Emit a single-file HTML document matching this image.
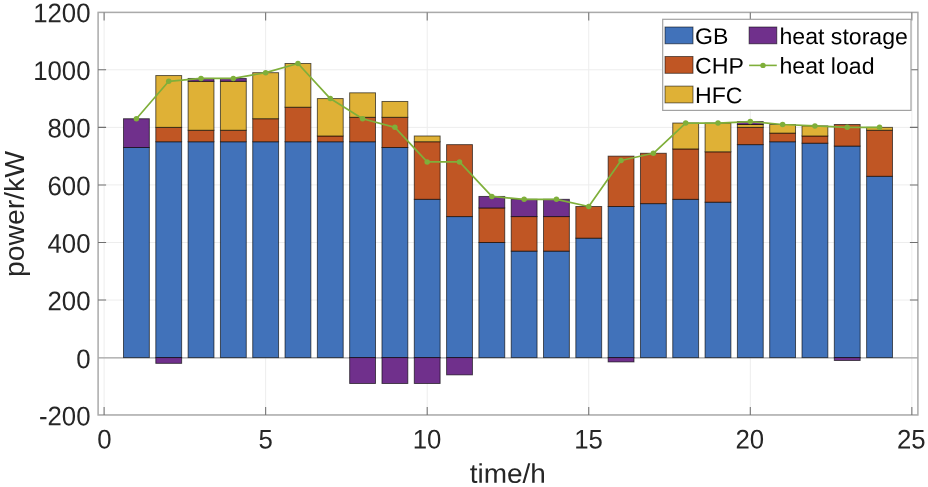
<!DOCTYPE html>
<html><head><meta charset="utf-8"><title>chart</title>
<style>html,body{margin:0;padding:0;background:#fff}svg{display:block;will-change:transform}text{font-family:"Liberation Sans",sans-serif}</style></head><body>
<svg width="928" height="487" viewBox="0 0 928 487">
<rect width="928" height="487" fill="#fff"/>
<path d="M104.10 12.4V414.95M265.65 12.4V414.95M427.20 12.4V414.95M588.75 12.4V414.95M750.30 12.4V414.95M911.85 12.4V414.95M98.1 415.16H917.9M98.1 357.60H917.9M98.1 300.04H917.9M98.1 242.48H917.9M98.1 184.92H917.9M98.1 127.36H917.9M98.1 69.80H917.9M98.1 12.24H917.9" stroke="#ededed" stroke-width="1" fill="none"/>
<path d="M98.1 357.90H917.9" stroke="#a4a4a4" stroke-width="1.4" fill="none"/>
<rect x="123.49" y="147.51" width="25.85" height="210.09" fill="#4172BA" stroke="#000" stroke-opacity="0.64" stroke-width="0.95"/>
<rect x="123.49" y="118.73" width="25.85" height="28.78" fill="#70308C" stroke="#000" stroke-opacity="0.64" stroke-width="0.95"/>
<rect x="155.80" y="141.75" width="25.85" height="215.85" fill="#4172BA" stroke="#000" stroke-opacity="0.64" stroke-width="0.95"/>
<rect x="155.80" y="127.36" width="25.85" height="14.39" fill="#C05624" stroke="#000" stroke-opacity="0.64" stroke-width="0.95"/>
<rect x="155.80" y="75.56" width="25.85" height="51.80" fill="#DFB136" stroke="#000" stroke-opacity="0.64" stroke-width="0.95"/>
<rect x="155.80" y="357.60" width="25.85" height="5.76" fill="#70308C" stroke="#000" stroke-opacity="0.64" stroke-width="0.95"/>
<rect x="188.11" y="141.75" width="25.85" height="215.85" fill="#4172BA" stroke="#000" stroke-opacity="0.64" stroke-width="0.95"/>
<rect x="188.11" y="130.24" width="25.85" height="11.51" fill="#C05624" stroke="#000" stroke-opacity="0.64" stroke-width="0.95"/>
<rect x="188.11" y="81.31" width="25.85" height="48.93" fill="#DFB136" stroke="#000" stroke-opacity="0.64" stroke-width="0.95"/>
<rect x="188.11" y="78.43" width="25.85" height="2.88" fill="#70308C" stroke="#000" stroke-opacity="0.64" stroke-width="0.95"/>
<rect x="220.42" y="141.75" width="25.85" height="215.85" fill="#4172BA" stroke="#000" stroke-opacity="0.64" stroke-width="0.95"/>
<rect x="220.42" y="130.24" width="25.85" height="11.51" fill="#C05624" stroke="#000" stroke-opacity="0.64" stroke-width="0.95"/>
<rect x="220.42" y="81.31" width="25.85" height="48.93" fill="#DFB136" stroke="#000" stroke-opacity="0.64" stroke-width="0.95"/>
<rect x="220.42" y="78.43" width="25.85" height="2.88" fill="#70308C" stroke="#000" stroke-opacity="0.64" stroke-width="0.95"/>
<rect x="252.73" y="141.75" width="25.85" height="215.85" fill="#4172BA" stroke="#000" stroke-opacity="0.64" stroke-width="0.95"/>
<rect x="252.73" y="118.73" width="25.85" height="23.02" fill="#C05624" stroke="#000" stroke-opacity="0.64" stroke-width="0.95"/>
<rect x="252.73" y="72.68" width="25.85" height="46.05" fill="#DFB136" stroke="#000" stroke-opacity="0.64" stroke-width="0.95"/>
<rect x="285.04" y="141.75" width="25.85" height="215.85" fill="#4172BA" stroke="#000" stroke-opacity="0.64" stroke-width="0.95"/>
<rect x="285.04" y="107.21" width="25.85" height="34.54" fill="#C05624" stroke="#000" stroke-opacity="0.64" stroke-width="0.95"/>
<rect x="285.04" y="63.47" width="25.85" height="43.75" fill="#DFB136" stroke="#000" stroke-opacity="0.64" stroke-width="0.95"/>
<rect x="317.35" y="141.75" width="25.85" height="215.85" fill="#4172BA" stroke="#000" stroke-opacity="0.64" stroke-width="0.95"/>
<rect x="317.35" y="135.99" width="25.85" height="5.76" fill="#C05624" stroke="#000" stroke-opacity="0.64" stroke-width="0.95"/>
<rect x="317.35" y="98.58" width="25.85" height="37.41" fill="#DFB136" stroke="#000" stroke-opacity="0.64" stroke-width="0.95"/>
<rect x="349.66" y="141.75" width="25.85" height="215.85" fill="#4172BA" stroke="#000" stroke-opacity="0.64" stroke-width="0.95"/>
<rect x="349.66" y="117.29" width="25.85" height="24.46" fill="#C05624" stroke="#000" stroke-opacity="0.64" stroke-width="0.95"/>
<rect x="349.66" y="92.82" width="25.85" height="24.46" fill="#DFB136" stroke="#000" stroke-opacity="0.64" stroke-width="0.95"/>
<rect x="349.66" y="357.60" width="25.85" height="25.90" fill="#70308C" stroke="#000" stroke-opacity="0.64" stroke-width="0.95"/>
<rect x="381.97" y="147.51" width="25.85" height="210.09" fill="#4172BA" stroke="#000" stroke-opacity="0.64" stroke-width="0.95"/>
<rect x="381.97" y="117.29" width="25.85" height="30.22" fill="#C05624" stroke="#000" stroke-opacity="0.64" stroke-width="0.95"/>
<rect x="381.97" y="101.46" width="25.85" height="15.83" fill="#DFB136" stroke="#000" stroke-opacity="0.64" stroke-width="0.95"/>
<rect x="381.97" y="357.60" width="25.85" height="25.90" fill="#70308C" stroke="#000" stroke-opacity="0.64" stroke-width="0.95"/>
<rect x="414.28" y="199.31" width="25.85" height="158.29" fill="#4172BA" stroke="#000" stroke-opacity="0.64" stroke-width="0.95"/>
<rect x="414.28" y="141.75" width="25.85" height="57.56" fill="#C05624" stroke="#000" stroke-opacity="0.64" stroke-width="0.95"/>
<rect x="414.28" y="135.99" width="25.85" height="5.76" fill="#DFB136" stroke="#000" stroke-opacity="0.64" stroke-width="0.95"/>
<rect x="414.28" y="357.60" width="25.85" height="25.90" fill="#70308C" stroke="#000" stroke-opacity="0.64" stroke-width="0.95"/>
<rect x="446.59" y="216.58" width="25.85" height="141.02" fill="#4172BA" stroke="#000" stroke-opacity="0.64" stroke-width="0.95"/>
<rect x="446.59" y="144.63" width="25.85" height="71.95" fill="#C05624" stroke="#000" stroke-opacity="0.64" stroke-width="0.95"/>
<rect x="446.59" y="357.60" width="25.85" height="17.27" fill="#70308C" stroke="#000" stroke-opacity="0.64" stroke-width="0.95"/>
<rect x="478.90" y="242.48" width="25.85" height="115.12" fill="#4172BA" stroke="#000" stroke-opacity="0.64" stroke-width="0.95"/>
<rect x="478.90" y="207.94" width="25.85" height="34.54" fill="#C05624" stroke="#000" stroke-opacity="0.64" stroke-width="0.95"/>
<rect x="478.90" y="196.43" width="25.85" height="11.51" fill="#70308C" stroke="#000" stroke-opacity="0.64" stroke-width="0.95"/>
<rect x="511.21" y="251.11" width="25.85" height="106.49" fill="#4172BA" stroke="#000" stroke-opacity="0.64" stroke-width="0.95"/>
<rect x="511.21" y="216.58" width="25.85" height="34.54" fill="#C05624" stroke="#000" stroke-opacity="0.64" stroke-width="0.95"/>
<rect x="511.21" y="199.31" width="25.85" height="17.27" fill="#70308C" stroke="#000" stroke-opacity="0.64" stroke-width="0.95"/>
<rect x="543.52" y="251.11" width="25.85" height="106.49" fill="#4172BA" stroke="#000" stroke-opacity="0.64" stroke-width="0.95"/>
<rect x="543.52" y="216.58" width="25.85" height="34.54" fill="#C05624" stroke="#000" stroke-opacity="0.64" stroke-width="0.95"/>
<rect x="543.52" y="199.31" width="25.85" height="17.27" fill="#70308C" stroke="#000" stroke-opacity="0.64" stroke-width="0.95"/>
<rect x="575.83" y="238.16" width="25.85" height="119.44" fill="#4172BA" stroke="#000" stroke-opacity="0.64" stroke-width="0.95"/>
<rect x="575.83" y="206.51" width="25.85" height="31.66" fill="#C05624" stroke="#000" stroke-opacity="0.64" stroke-width="0.95"/>
<rect x="608.14" y="206.51" width="25.85" height="151.09" fill="#4172BA" stroke="#000" stroke-opacity="0.64" stroke-width="0.95"/>
<rect x="608.14" y="156.14" width="25.85" height="50.37" fill="#C05624" stroke="#000" stroke-opacity="0.64" stroke-width="0.95"/>
<rect x="608.14" y="357.60" width="25.85" height="4.32" fill="#70308C" stroke="#000" stroke-opacity="0.64" stroke-width="0.95"/>
<rect x="640.45" y="203.63" width="25.85" height="153.97" fill="#4172BA" stroke="#000" stroke-opacity="0.64" stroke-width="0.95"/>
<rect x="640.45" y="153.26" width="25.85" height="50.36" fill="#C05624" stroke="#000" stroke-opacity="0.64" stroke-width="0.95"/>
<rect x="672.76" y="199.31" width="25.85" height="158.29" fill="#4172BA" stroke="#000" stroke-opacity="0.64" stroke-width="0.95"/>
<rect x="672.76" y="148.95" width="25.85" height="50.37" fill="#C05624" stroke="#000" stroke-opacity="0.64" stroke-width="0.95"/>
<rect x="672.76" y="123.04" width="25.85" height="25.90" fill="#DFB136" stroke="#000" stroke-opacity="0.64" stroke-width="0.95"/>
<rect x="705.07" y="202.19" width="25.85" height="155.41" fill="#4172BA" stroke="#000" stroke-opacity="0.64" stroke-width="0.95"/>
<rect x="705.07" y="151.82" width="25.85" height="50.36" fill="#C05624" stroke="#000" stroke-opacity="0.64" stroke-width="0.95"/>
<rect x="705.07" y="123.04" width="25.85" height="28.78" fill="#DFB136" stroke="#000" stroke-opacity="0.64" stroke-width="0.95"/>
<rect x="737.38" y="144.63" width="25.85" height="212.97" fill="#4172BA" stroke="#000" stroke-opacity="0.64" stroke-width="0.95"/>
<rect x="737.38" y="127.36" width="25.85" height="17.27" fill="#C05624" stroke="#000" stroke-opacity="0.64" stroke-width="0.95"/>
<rect x="737.38" y="124.48" width="25.85" height="2.88" fill="#DFB136" stroke="#000" stroke-opacity="0.64" stroke-width="0.95"/>
<rect x="737.38" y="121.60" width="25.85" height="2.88" fill="#70308C" stroke="#000" stroke-opacity="0.64" stroke-width="0.95"/>
<rect x="769.69" y="141.75" width="25.85" height="215.85" fill="#4172BA" stroke="#000" stroke-opacity="0.64" stroke-width="0.95"/>
<rect x="769.69" y="133.12" width="25.85" height="8.63" fill="#C05624" stroke="#000" stroke-opacity="0.64" stroke-width="0.95"/>
<rect x="769.69" y="124.48" width="25.85" height="8.63" fill="#DFB136" stroke="#000" stroke-opacity="0.64" stroke-width="0.95"/>
<rect x="802.00" y="143.19" width="25.85" height="214.41" fill="#4172BA" stroke="#000" stroke-opacity="0.64" stroke-width="0.95"/>
<rect x="802.00" y="135.99" width="25.85" height="7.19" fill="#C05624" stroke="#000" stroke-opacity="0.64" stroke-width="0.95"/>
<rect x="802.00" y="125.92" width="25.85" height="10.07" fill="#DFB136" stroke="#000" stroke-opacity="0.64" stroke-width="0.95"/>
<rect x="834.31" y="146.07" width="25.85" height="211.53" fill="#4172BA" stroke="#000" stroke-opacity="0.64" stroke-width="0.95"/>
<rect x="834.31" y="124.48" width="25.85" height="21.59" fill="#C05624" stroke="#000" stroke-opacity="0.64" stroke-width="0.95"/>
<rect x="834.31" y="357.60" width="25.85" height="2.88" fill="#70308C" stroke="#000" stroke-opacity="0.64" stroke-width="0.95"/>
<rect x="866.62" y="176.29" width="25.85" height="181.31" fill="#4172BA" stroke="#000" stroke-opacity="0.64" stroke-width="0.95"/>
<rect x="866.62" y="130.24" width="25.85" height="46.05" fill="#C05624" stroke="#000" stroke-opacity="0.64" stroke-width="0.95"/>
<rect x="866.62" y="127.36" width="25.85" height="2.88" fill="#DFB136" stroke="#000" stroke-opacity="0.64" stroke-width="0.95"/>
<polyline points="136.41,118.73 168.72,81.31 201.03,78.43 233.34,78.43 265.65,72.68 297.96,63.47 330.27,98.58 362.58,118.73 394.89,127.36 427.20,161.90 459.51,161.90 491.82,196.43 524.13,199.31 556.44,199.31 588.75,206.51 621.06,160.46 653.37,153.26 685.68,123.04 717.99,123.04 750.30,121.60 782.61,124.48 814.92,125.92 847.23,127.36 879.54,127.36" fill="none" stroke="#7FAF3A" stroke-width="1.7" stroke-linejoin="round"/>
<circle cx="136.41" cy="118.73" r="2.75" fill="#7FAF3A"/>
<circle cx="168.72" cy="81.31" r="2.75" fill="#7FAF3A"/>
<circle cx="201.03" cy="78.43" r="2.75" fill="#7FAF3A"/>
<circle cx="233.34" cy="78.43" r="2.75" fill="#7FAF3A"/>
<circle cx="265.65" cy="72.68" r="2.75" fill="#7FAF3A"/>
<circle cx="297.96" cy="63.47" r="2.75" fill="#7FAF3A"/>
<circle cx="330.27" cy="98.58" r="2.75" fill="#7FAF3A"/>
<circle cx="362.58" cy="118.73" r="2.75" fill="#7FAF3A"/>
<circle cx="394.89" cy="127.36" r="2.75" fill="#7FAF3A"/>
<circle cx="427.20" cy="161.90" r="2.75" fill="#7FAF3A"/>
<circle cx="459.51" cy="161.90" r="2.75" fill="#7FAF3A"/>
<circle cx="491.82" cy="196.43" r="2.75" fill="#7FAF3A"/>
<circle cx="524.13" cy="199.31" r="2.75" fill="#7FAF3A"/>
<circle cx="556.44" cy="199.31" r="2.75" fill="#7FAF3A"/>
<circle cx="588.75" cy="206.51" r="2.75" fill="#7FAF3A"/>
<circle cx="621.06" cy="160.46" r="2.75" fill="#7FAF3A"/>
<circle cx="653.37" cy="153.26" r="2.75" fill="#7FAF3A"/>
<circle cx="685.68" cy="123.04" r="2.75" fill="#7FAF3A"/>
<circle cx="717.99" cy="123.04" r="2.75" fill="#7FAF3A"/>
<circle cx="750.30" cy="121.60" r="2.75" fill="#7FAF3A"/>
<circle cx="782.61" cy="124.48" r="2.75" fill="#7FAF3A"/>
<circle cx="814.92" cy="125.92" r="2.75" fill="#7FAF3A"/>
<circle cx="847.23" cy="127.36" r="2.75" fill="#7FAF3A"/>
<circle cx="879.54" cy="127.36" r="2.75" fill="#7FAF3A"/>
<rect x="98.1" y="12.4" width="819.80" height="402.55" fill="none" stroke="#aaaaaa" stroke-width="1.5"/>
<path d="M104.10 414.95v-8M104.10 12.4v8M265.65 414.95v-8M265.65 12.4v8M427.20 414.95v-8M427.20 12.4v8M588.75 414.95v-8M588.75 12.4v8M750.30 414.95v-8M750.30 12.4v8M911.85 414.95v-8M911.85 12.4v8M98.1 300.04h8M917.9 300.04h-8M98.1 242.48h8M917.9 242.48h-8M98.1 184.92h8M917.9 184.92h-8M98.1 127.36h8M917.9 127.36h-8M98.1 69.80h8M917.9 69.80h-8" stroke="#707070" stroke-width="1.05" fill="none"/>
<text transform="translate(104.30,448.6) rotate(0.05) scale(0.955,1)" font-size="27" fill="#262626" text-anchor="middle">0</text>
<text transform="translate(265.69,448.6) rotate(0.05) scale(0.955,1)" font-size="27" fill="#262626" text-anchor="middle">5</text>
<text transform="translate(427.08,448.6) rotate(0.05) scale(0.955,1)" font-size="27" fill="#262626" text-anchor="middle">10</text>
<text transform="translate(588.47,448.6) rotate(0.05) scale(0.955,1)" font-size="27" fill="#262626" text-anchor="middle">15</text>
<text transform="translate(749.86,448.6) rotate(0.05) scale(0.955,1)" font-size="27" fill="#262626" text-anchor="middle">20</text>
<text transform="translate(911.25,448.6) rotate(0.05) scale(0.955,1)" font-size="27" fill="#262626" text-anchor="middle">25</text>
<text transform="translate(90.5,425.41) rotate(0.05) scale(0.955,1)" font-size="27" fill="#262626" text-anchor="end">-200</text>
<text transform="translate(90.5,368.35) rotate(0.05) scale(0.955,1)" font-size="27" fill="#262626" text-anchor="end">0</text>
<text transform="translate(90.5,310.29) rotate(0.05) scale(0.955,1)" font-size="27" fill="#262626" text-anchor="end">200</text>
<text transform="translate(90.5,252.73) rotate(0.05) scale(0.955,1)" font-size="27" fill="#262626" text-anchor="end">400</text>
<text transform="translate(90.5,195.17) rotate(0.05) scale(0.955,1)" font-size="27" fill="#262626" text-anchor="end">600</text>
<text transform="translate(90.5,137.61) rotate(0.05) scale(0.955,1)" font-size="27" fill="#262626" text-anchor="end">800</text>
<text transform="translate(90.5,80.05) rotate(0.05) scale(0.955,1)" font-size="27" fill="#262626" text-anchor="end">1000</text>
<text transform="translate(90.5,22.29) rotate(0.05) scale(0.955,1)" font-size="27" fill="#262626" text-anchor="end">1200</text>
<text transform="translate(507.8,482.8) rotate(0.05) scale(1.037,1)" font-size="27" fill="#262626" text-anchor="middle">time/h</text>
<text transform="translate(24.1,214.1) rotate(-90) scale(1.05,1)" font-size="27" fill="#262626" text-anchor="middle">power/kW</text>
<rect x="662.7" y="19.3" width="248.3" height="91.1" fill="#fff" stroke="#a2a2a2" stroke-width="1.2"/>
<rect x="665" y="27.00" width="28" height="16.8" fill="#4172BA" stroke="#000" stroke-opacity="0.6" stroke-width="0.9"/>
<text transform="translate(695.1,44.10) rotate(0.05) scale(1.02,1)" font-size="22.65" fill="#000">GB</text>
<rect x="665" y="56.50" width="28" height="16.8" fill="#C05624" stroke="#000" stroke-opacity="0.6" stroke-width="0.9"/>
<text transform="translate(695.1,73.60) rotate(0.05) scale(1.02,1)" font-size="22.65" fill="#000">CHP</text>
<rect x="665" y="86.10" width="28" height="16.8" fill="#DFB136" stroke="#000" stroke-opacity="0.6" stroke-width="0.9"/>
<text transform="translate(695.1,103.10) rotate(0.05) scale(1.02,1)" font-size="22.65" fill="#000">HFC</text>
<rect x="749.1" y="27.00" width="27.7" height="16.8" fill="#70308C" stroke="#000" stroke-opacity="0.6" stroke-width="0.9"/>
<text transform="translate(779.5,44.10) rotate(0.05) scale(1.02,1)" font-size="22.65" fill="#000">heat storage</text>
<path d="M749.1 65.4H776.8" stroke="#7FAF3A" stroke-width="1.6" fill="none"/>
<circle cx="763" cy="65.4" r="2.7" fill="#7FAF3A"/>
<text transform="translate(779.5,73.60) rotate(0.05) scale(1.02,1)" font-size="22.65" fill="#000">heat load</text>
</svg></body></html>
